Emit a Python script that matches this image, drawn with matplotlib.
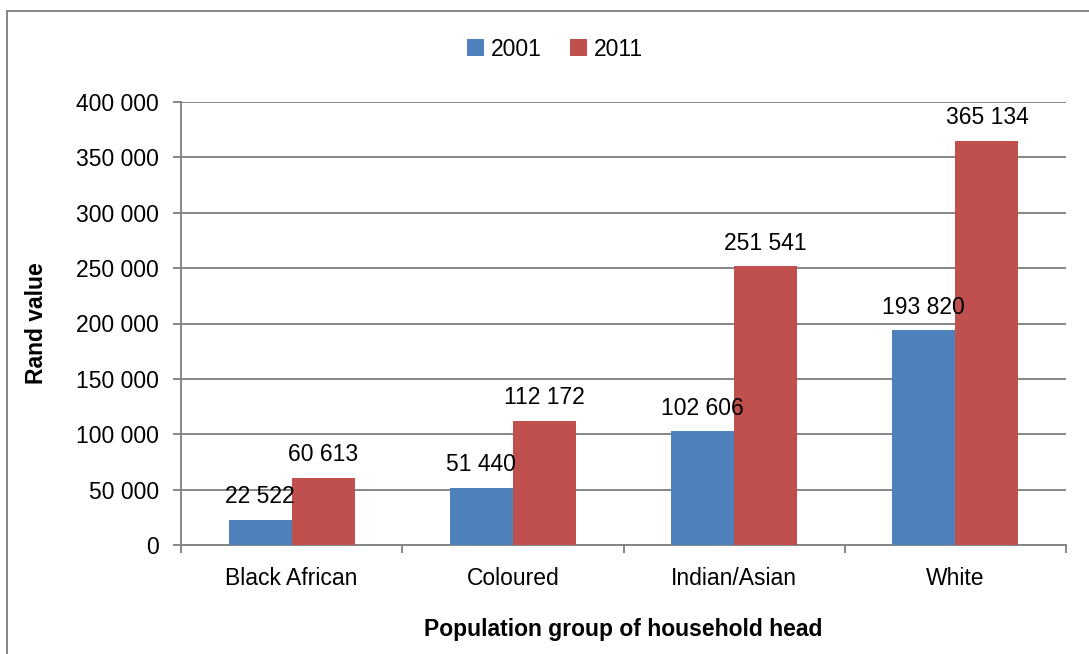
import matplotlib.pyplot as plt
from matplotlib.lines import Line2D
import numpy as np

plt.rcParams['font.family'] = ['Liberation Sans Narrow', 'Liberation Sans', 'DejaVu Sans']

groups = ['Black African', 'Coloured', 'Indian/Asian', 'White']
years = ['2001', '2011']
values_2001 = [22522, 51440, 102606, 193820]
values_2011 = [60613, 112172, 251541, 365134]
yticks = [0, 50000, 100000, 150000, 200000, 250000, 300000, 350000, 400000]

blue = '#4F81BD'
red = '#C0504D'
grey = '#868686'
fs = 16.5


def fmt(v):
    return f'{v:,}'.replace(',', ' ')


fig = plt.figure(figsize=(10.89, 6.54), dpi=100)
ax = fig.add_axes([181 / 1089, 1 - 545 / 654, (1066 - 181) / 1089, (545 - 102) / 654])

x = np.arange(len(groups))
w = 0.285
b1 = ax.bar(x - w / 2, values_2001, w, color=blue, label=years[0], zorder=3)
b2 = ax.bar(x + w / 2, values_2011, w, color=red, label=years[1], zorder=3)

for bars, vals in ((b1, values_2001), (b2, values_2011)):
    for rect, v in zip(bars, vals):
        ax.annotate(fmt(v), (rect.get_x() + rect.get_width() / 2, v),
                    xytext=(0, 12), textcoords='offset points',
                    ha='center', va='baseline', fontsize=fs, zorder=4)

ax.set_xlim(-0.5, len(groups) - 0.5)
ax.set_ylim(0, 400000)
ax.set_yticks(yticks)
ax.set_yticklabels([fmt(v) for v in yticks], fontsize=fs)
ax.yaxis.grid(True, color=grey, linewidth=1.4, zorder=0)

# category boundaries carry the tick marks, centres carry the labels
ax.set_xticks(np.arange(len(groups) + 1) - 0.5)
ax.set_xticklabels([])
ax.set_xticks(x, minor=True)
ax.set_xticklabels(groups, minor=True, fontsize=fs)
ax.tick_params(axis='x', which='minor', length=0, pad=16)
ax.tick_params(axis='x', which='major', length=6, color=grey, width=1.4)
ax.tick_params(axis='y', length=6, color=grey, width=1.4, pad=10)

for side in ('top', 'right'):
    ax.spines[side].set_visible(False)
for side in ('left', 'bottom'):
    ax.spines[side].set_color(grey)
    ax.spines[side].set_linewidth(1.4)

ax.set_xlabel('Population group of household head', fontsize=fs,
              fontweight='bold', labelpad=20)
ax.set_ylabel('Rand value', fontsize=fs, fontweight='bold', labelpad=20)

fig.legend(loc='center', bbox_to_anchor=(555 / 1089, 1 - 49 / 654), ncol=2,
           frameon=False, fontsize=fs, handlelength=0.75, handleheight=0.75,
           handletextpad=0.3, columnspacing=1.2, borderaxespad=0)

# outer chart border
fig.add_artist(Line2D([7 / 1089, 7 / 1089], [0, 1 - 11 / 654], color=grey, lw=1.4))
fig.add_artist(Line2D([7 / 1089, 1], [1 - 11 / 654, 1 - 11 / 654], color=grey, lw=1.4))

fig.savefig('out.png', dpi=100)
